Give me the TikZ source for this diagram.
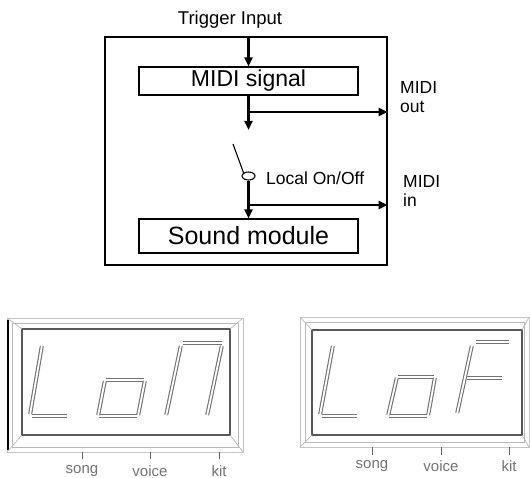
\documentclass[tikz,border=0pt]{standalone}
\usepackage{fontspec}
\setmainfont{Liberation Sans}
\usetikzlibrary{arrows.meta,positioning,shapes.geometric}

\begin{document}
\begin{tikzpicture}[
  x=1pt, y=-1pt, >={Triangle[length=9pt,width=8pt]},
  lab/.style={font=\fontsize{17.5}{19}\selectfont,inner sep=0pt,align=left},
  blk/.style={draw,line width=1.2pt,minimum width=219pt,inner sep=0pt},
  sig/.style={->,line width=2.4pt},
  frm/.style={draw=gray!45,line width=0.8pt},
  lcdin/.style={draw=black!65,line width=2.2pt},
  bev/.style={draw=gray!55,line width=0.7pt},
  seg/.style={draw=black!55,double=white,double distance=1.8pt,line width=1.1pt,
              shorten <=1pt,shorten >=1pt},
  tick/.style={draw=black!60,line width=1pt},
  key/.style={font=\fontsize{15}{15}\selectfont,text=black!55,inner sep=0pt}
]
\useasboundingbox (0,0) rectangle (530,478);

% block diagram
\node[draw,line width=1.2pt,minimum width=282pt,minimum height=228pt] (frame) at (246,151) {};
\node[lab,anchor=base,font=\fontsize{18.5}{19}\selectfont] (trig) at (230,25) {Trigger Input};
\node[blk,minimum height=28pt,font=\fontsize{23}{23}\selectfont] (sig) at (248.5,81) {MIDI signal};
\node[blk,minimum height=34pt,font=\fontsize{25}{25}\selectfont] (snd) at (248.5,236) {Sound module};
\coordinate (tin) at (248.5,37);
\coordinate (gap) at (248.5,130);
\coordinate (br1) at (248.5,112);
\coordinate (br2) at (248.5,205);
\coordinate (lever) at (233,144);
\node[ellipse,draw,line width=1.1pt,minimum width=13pt,minimum height=8pt,inner sep=0pt] (sw) at (248.5,176) {};

\draw[sig] (tin) -- (sig.north);
\draw[sig] (sig.south) -- (gap);
\draw[sig] (br1) -- (br1 -| frame.east);
\draw[line width=1.1pt] (lever) -- (sw.north west);
\draw[sig] (sw.south) -- (snd.north);
\draw[sig] (br2) -- (br2 -| frame.east);

\node[lab,anchor=base west] (mout) at (400,113) {MIDI\\out};
\node[lab,anchor=base west] (min) at (403,207) {MIDI\\in};
\node[lab,anchor=base west] (loc) at (266,185) {Local On/Off};

% left display: L o n
\draw[frm] (7,318) rectangle (243,452);
\draw[bev] (12,323) rectangle (238,447);
\draw[lcdin] (22,329) rectangle (230,435);
\draw[line width=1.4pt] (8,320) -- (8,450);
\draw[bev] (7,318) -- (22,329) (243,318) -- (230,329) (7,452) -- (22,435) (243,452) -- (230,435);
\draw[seg] (42,345) -- (30,415);
\draw[seg] (31,416) -- (68,416);
\draw[seg] (105,380) -- (145,380);
\draw[seg] (145,380) -- (138,416);
\draw[seg] (138,416) -- (98,416);
\draw[seg] (98,416) -- (105,380);
\draw[seg] (182,343) -- (223,343);
\draw[seg] (181,345) -- (166,416);
\draw[seg] (222,345) -- (207,416);
\foreach \x/\t in {82/song,150/voice,219/kit}
  \draw[tick] (\x,452) -- (\x,459) node[key,below=6pt] {\t};

% right display: L o F
\draw[frm] (300,317) rectangle (529,447);
\draw[bev] (305,322) rectangle (524,442);
\draw[lcdin] (312,330) rectangle (522,435);
\draw[bev] (300,317) -- (312,330) (529,317) -- (522,330) (300,447) -- (312,435) (529,447) -- (522,435);
\draw[seg] (333,345) -- (320,415);
\draw[seg] (321,416) -- (358,416);
\draw[seg] (397,377) -- (435,377);
\draw[seg] (435,377) -- (428,416);
\draw[seg] (428,416) -- (388,416);
\draw[seg] (388,416) -- (397,377);
\draw[seg] (475,342) -- (510,342);
\draw[seg] (472,345) -- (457,414);
\draw[seg] (466,378) -- (503,378);
\foreach \x/\t in {372/song,441/voice,509/kit}
  \draw[tick] (\x,447) -- (\x,455) node[key,below=5pt] {\t};
\end{tikzpicture}
\end{document}
